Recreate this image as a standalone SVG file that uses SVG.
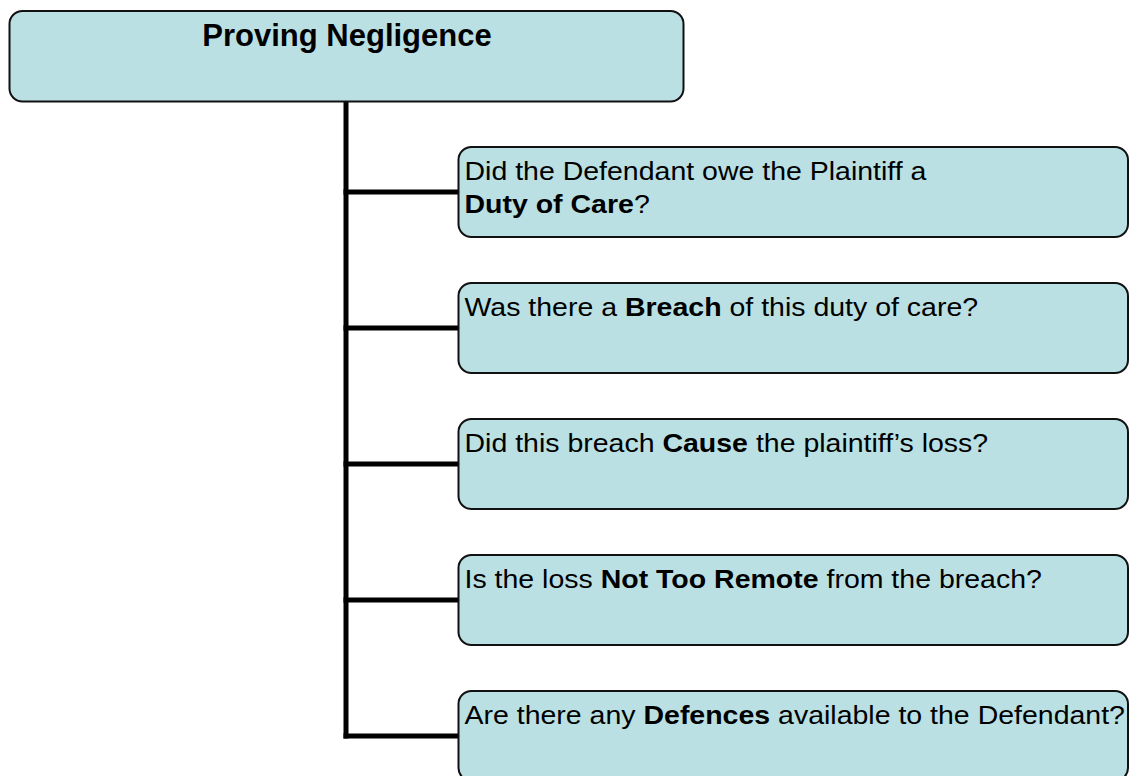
<svg xmlns="http://www.w3.org/2000/svg" width="1130" height="776" viewBox="0 0 1130 776">
<style>
.box{fill:#bae0e3;stroke:#111;stroke-width:2}
.conn{stroke:#000;stroke-width:5;fill:none;stroke-linecap:butt}
.title{font-family:"Liberation Sans",Arial,sans-serif;font-weight:bold;font-size:31px;fill:#000}
.t{font-family:"Liberation Sans",Arial,sans-serif;font-size:25px;fill:#000}
.b{font-weight:bold}
</style>
<rect width="1130" height="776" fill="#fff"/>
<g id="connectors">
<path class="conn" d="M346 101 V738.5"/>
<path class="conn" d="M343.5 192 H459"/>
<path class="conn" d="M343.5 328 H459"/>
<path class="conn" d="M343.5 464 H459"/>
<path class="conn" d="M343.5 600 H459"/>
<path class="conn" d="M343.5 736 H459"/>
</g>
<g id="root">
<rect class="box" x="9.5" y="11" width="674" height="90.5" rx="13" ry="13"/>
<text class="title" x="347" y="46" text-anchor="middle">Proving Negligence</text>
</g>
<g id="duty">
<rect class="box" x="458.5" y="147" width="669.5" height="90" rx="13" ry="13"/>
<text class="t" transform="translate(464.5,179.5) scale(1.14,1)">Did the Defendant owe the Plaintiff a</text>
<text class="t" transform="translate(464.5,213) scale(1.14,1)"><tspan class="b">Duty of Care</tspan>?</text>
</g>
<g id="breach">
<rect class="box" x="458.5" y="283" width="669.5" height="90" rx="13" ry="13"/>
<text class="t" transform="translate(464.5,315.5) scale(1.14,1)">Was there a <tspan class="b">Breach</tspan> of this duty of care?</text>
</g>
<g id="cause">
<rect class="box" x="458.5" y="419" width="669.5" height="90" rx="13" ry="13"/>
<text class="t" transform="translate(464.5,451.5) scale(1.14,1)">Did this breach <tspan class="b">Cause</tspan> the plaintiff’s loss?</text>
</g>
<g id="remote">
<rect class="box" x="458.5" y="555" width="669.5" height="90" rx="13" ry="13"/>
<text class="t" transform="translate(464.5,587.5) scale(1.14,1)">Is the loss <tspan class="b">Not Too Remote</tspan> from the breach?</text>
</g>
<g id="defences">
<rect class="box" x="458.5" y="691" width="669.5" height="90" rx="13" ry="13"/>
<text class="t" transform="translate(464.5,723.5) scale(1.14,1)">Are there any <tspan class="b">Defences</tspan> available to the Defendant?</text>
</g>
</svg>
